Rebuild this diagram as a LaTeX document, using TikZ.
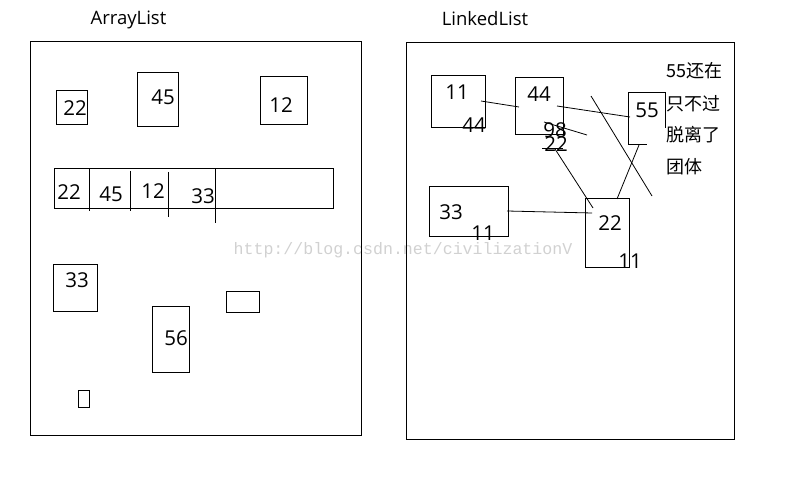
\documentclass[tikz,border=0pt]{standalone}
\usepackage{fontspec}
\setmainfont{Open Sans}
\newfontfamily\cjk{Noto Sans CJK SC}
\newfontfamily\wmfont{Liberation Mono}
\begin{document}
\begin{tikzpicture}[x=1pt,y=-1pt,
  box/.style={draw, line width=1pt, inner sep=0pt, outer sep=0pt},
  num/.style={inner sep=0pt, font=\fontsize{20.5}{20.5}\selectfont},
  ttl/.style={inner sep=0pt, font=\fontsize{18.5}{18.5}\selectfont},
  cn/.style={inner sep=0pt, anchor=west, font=\cjk\fontsize{18}{18}\selectfont},
  wire/.style={line width=0.8pt},
  edge/.style={line width=1pt}]
\useasboundingbox (0,0) rectangle (787,481);
% watermark
\node[inner sep=0pt, text=black!18, font=\wmfont\fontsize{16.6}{16.6}\selectfont] (wm) at (403,250) {http://blog.csdn.net/civilizationV};
% titles
\node[ttl] (t1) at (128.5,20) {ArrayList};
\node[ttl] (t2) at (485,19) {LinkedList};
% panels
\node[box, minimum width=331, minimum height=393] (pl) at (195.5,238.5) {};
\node[box, minimum width=328, minimum height=396] (pr) at (570,241) {};
% ArrayList boxes
\node[box, minimum width=31, minimum height=34] (b22) at (71.5,108) {};
\node[num] (n22) at (75,108) {22};
\node[box, minimum width=41, minimum height=54] (b45) at (157.5,100) {};
\node[num] (n45) at (163,97) {45};
\node[box, minimum width=47, minimum height=48] (b12) at (283.5,101) {};
\node[num] (n12) at (281,105) {12};
\node[box, minimum width=279, minimum height=40] (arr) at (193.5,189) {};
\coordinate (d1a) at (89,169); \coordinate (d1b) at (89,211);
\coordinate (d2a) at (130,171); \coordinate (d2b) at (130,211);
\coordinate (d3a) at (168,172); \coordinate (d3b) at (168,217);
\coordinate (d4a) at (215,169); \coordinate (d4b) at (215,223);
\draw[edge] (d1a) -- (d1b);
\draw[edge] (d2a) -- (d2b);
\draw[edge] (d3a) -- (d3b);
\draw[edge] (d4a) -- (d4b);
\node[num] (a1) at (69,192) {22};
\node[num] (a2) at (111,194) {45};
\node[num] (a3) at (153,191.5) {12};
\node[num] (a4) at (203,196) {33};
\node[box, minimum width=44, minimum height=47] (b33) at (75,287.5) {};
\node[num] (n33) at (77,280) {33};
\node[box, minimum width=37, minimum height=66] (b56) at (170.5,339) {};
\node[num] (n56) at (176,338) {56};
\node[box, minimum width=33, minimum height=21] (be) at (242.5,301.5) {};
\node[box, minimum width=11, minimum height=17] (bt) at (83.5,398.5) {};
% LinkedList boxes
\node[box, minimum width=54, minimum height=52] (l11) at (458,102) {};
\node[num] (l11a) at (457,92) {11};
\node[num] (l11b) at (474,125) {44};
\node[box, minimum width=48, minimum height=57] (l44) at (539,106.5) {};
\node[num] (l44a) at (539,94) {44};
\node[num] (l44b) at (555,130) {98};
\node[num] (l44c) at (556,144) {22};
\coordinate (u1) at (542,148); \coordinate (u2) at (563,148);
\draw[wire] (u1) -- (u2);
% 55 box (partial strokes)
\coordinate (f1) at (628,93); \coordinate (f2) at (665,93);
\coordinate (f3) at (665,128); \coordinate (f4) at (628,145);
\coordinate (f5) at (647,145);
\draw[edge] (f3) -- (f2) -- (f1) -- (f4) -- (f5);
\node[num] (l55) at (647,110) {55};
\node[box, minimum width=79, minimum height=50] (l33) at (468.5,212) {};
\node[num] (l33a) at (451,212) {33};
\node[num] (l33b) at (483,233) {11};
\node[box, minimum width=44, minimum height=68] (l22) at (607,233) {};
\node[num] (l22a) at (610,223) {22};
\node[num] (l22b) at (630,261) {11};
% connectors
\coordinate (c1a) at (481,101); \coordinate (c1b) at (519,107);
\coordinate (c2a) at (557,106); \coordinate (c2b) at (630,117);
\coordinate (c3a) at (544,122); \coordinate (c3b) at (587,135);
\coordinate (c4a) at (555,149); \coordinate (c4b) at (593,208);
\coordinate (c5a) at (639,145); \coordinate (c5b) at (617,199);
\coordinate (c6a) at (591,96);  \coordinate (c6b) at (652,196);
\coordinate (c7a) at (507,211); \coordinate (c7b) at (592,213);
\draw[wire] (c1a) -- (c1b);
\draw[wire] (c2a) -- (c2b);
\draw[wire] (c3a) -- (c3b);
\draw[wire] (c4a) -- (c4b);
\draw[wire] (c5a) -- (c5b);
\draw[wire] (c6a) -- (c6b);
\draw[wire] (c7a) -- (c7b);
% note
\node[cn] (m1) at (666,71) {55还在};
\node[cn] (m2) at (666,104) {只不过};
\node[cn] (m3) at (666,135) {脱离了};
\node[cn] (m4) at (666,167) {团体};
\end{tikzpicture}
\end{document}
